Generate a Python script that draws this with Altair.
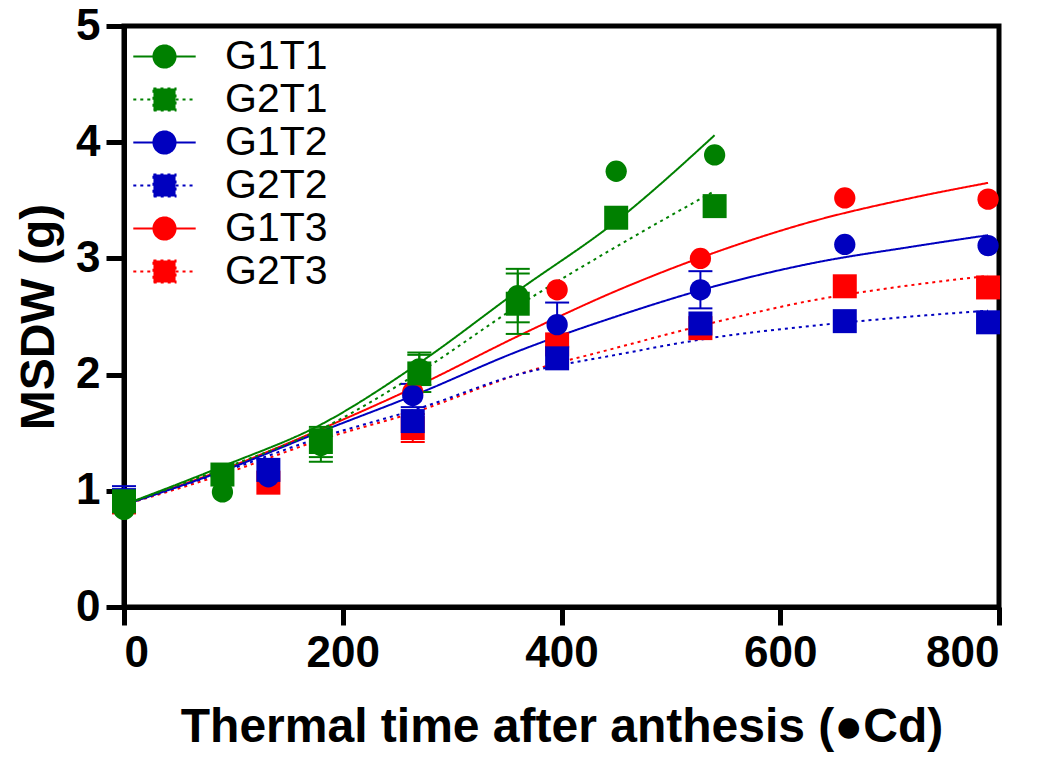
import altair as alt
import pandas as pd

# ---------------- data ----------------
series = ["G1T1", "G2T1", "G1T2", "G2T2", "G1T3", "G2T3"]
colors = ["#008000", "#008000", "#0000BF", "#0000BF", "#FF0000", "#FF0000"]
shapes = ["circle", "square", "circle", "square", "circle", "square"]
draw_order = ["G1T3", "G2T3", "G1T2", "G2T2", "G1T1", "G2T1"]

x_T1 = [0, 90, 180, 270, 360, 450, 540]
x_T23 = [0, 132, 264, 396, 527, 659, 790]

y_G1T1 = [0.84, 0.99, 1.39, 2.05, 2.68, 3.75, 3.89]
y_G2T1 = [0.91, 1.14, 1.42, 2.01, 2.61, 3.35, 3.45]
y_G1T2 = [0.93, 1.12, 1.82, 2.43, 2.73, 3.12, 3.11]
y_G2T2 = [0.92, 1.18, 1.60, 2.14, 2.44, 2.46, 2.45]
y_G1T3 = [0.90, 1.12, 1.85, 2.73, 3.00, 3.52, 3.51]
y_G2T3 = [0.90, 1.07, 1.54, 2.26, 2.40, 2.76, 2.75]

e_G1T1 = [0, 0, 0.14, 0.14, 0.23, 0, 0]
e_G2T1 = [0, 0, 0.13, 0.16, 0.26, 0, 0]
e_G1T2 = [0.11, 0, 0.10, 0.19, 0.16, 0, 0]
e_G2T2 = [0, 0, 0, 0, 0, 0, 0]
e_G1T3 = [0, 0, 0, 0, 0, 0, 0]
e_G2T3 = [0, 0, 0.12, 0, 0, 0, 0]

fit_x_T1 = [0, 90, 180, 270, 360, 450, 540]
fit_x_T23 = [0, 90, 180, 270, 360, 450, 540, 630, 720, 790]
fit_G1T1 = [0.88, 1.21, 1.57, 2.10, 2.72, 3.32, 4.06]
fit_G2T1 = [0.88, 1.19, 1.53, 2.02, 2.59, 3.10, 3.58]
fit_G1T2 = [0.88, 1.17, 1.51, 1.84, 2.20, 2.50, 2.76, 2.96, 3.10, 3.20]
fit_G2T2 = [0.88, 1.16, 1.46, 1.71, 2.00, 2.17, 2.32, 2.42, 2.50, 2.55]
fit_G1T3 = [0.88, 1.18, 1.53, 1.91, 2.33, 2.72, 3.05, 3.32, 3.52, 3.65]
fit_G2T3 = [0.88, 1.14, 1.44, 1.69, 2.00, 2.23, 2.45, 2.64, 2.77, 2.85]

pts_x = {"G1T1": x_T1, "G2T1": x_T1, "G1T2": x_T23, "G2T2": x_T23, "G1T3": x_T23, "G2T3": x_T23}
pts_y = {"G1T1": y_G1T1, "G2T1": y_G2T1, "G1T2": y_G1T2, "G2T2": y_G2T2, "G1T3": y_G1T3, "G2T3": y_G2T3}
pts_e = {"G1T1": e_G1T1, "G2T1": e_G2T1, "G1T2": e_G1T2, "G2T2": e_G2T2, "G1T3": e_G1T3, "G2T3": e_G2T3}
fit_x = {"G1T1": fit_x_T1, "G2T1": fit_x_T1, "G1T2": fit_x_T23, "G2T2": fit_x_T23, "G1T3": fit_x_T23, "G2T3": fit_x_T23}
fit_y = {"G1T1": fit_G1T1, "G2T1": fit_G2T1, "G1T2": fit_G1T2, "G2T2": fit_G2T2, "G1T3": fit_G1T3, "G2T3": fit_G2T3}

shape_of = dict(zip(series, shapes))
rows, erows, frows = [], [], []
for s in draw_order:
    for xv, yv, ev in zip(pts_x[s], pts_y[s], pts_e[s]):
        rows.append({"series": s, "t": xv, "y": yv, "shp": shape_of[s]})
        if ev > 0:
            erows.append({"series": s, "t": xv, "lo": yv - ev, "hi": yv + ev})
    for xv, yv in zip(fit_x[s], fit_y[s]):
        frows.append({"series": s, "t": xv, "fit": yv})
pts = pd.DataFrame(rows)
errs = pd.DataFrame(erows)
fits = pd.DataFrame(frows)

# legend symbols: line + marker
P_CIRCLE = "M-2.6,0L-0.92,0M0.92,0L2.6,0M-0.92,0A0.92,0.92,0,1,0,0.92,0A0.92,0.92,0,1,0,-0.92,0Z"
P_SQUARE = "M-2.6,0L-0.92,0M0.92,0L2.6,0M-0.92,-0.92L0.92,-0.92L0.92,0.92L-0.92,0.92Z"
legend_paths = [P_CIRCLE if s == "circle" else P_SQUARE for s in shapes]
dash_range = [[1, 0], [3, 4], [1, 0], [3, 4], [1, 0], [3, 4]]

FONT = "Liberation Sans"

color_scale = alt.Scale(domain=series, range=colors)
dash_scale = alt.Scale(domain=series, range=dash_range)
shape_scale = alt.Scale(domain=series, range=legend_paths)

legend = alt.Legend(
    title=None, orient="none", legendX=20, legendY=10, padding=0,
    symbolSize=576, symbolStrokeWidth=2, symbolOpacity=1,
    labelFont=FONT, labelFontSize=41, labelFontWeight="normal", labelColor="black",
    labelOffset=40, rowPadding=1,
)

xenc = alt.X("t:Q", scale=alt.Scale(domain=[0, 800], nice=False, zero=False),
             axis=alt.Axis(values=[0, 200, 400, 600, 800], format="d",
                           title="Thermal time after anthesis (●Cd)"))
yscale = alt.Scale(domain=[0, 5], nice=False)
yaxis = alt.Axis(values=[0, 1, 2, 3, 4, 5], format="d", title="MSDW (g)")

leg = alt.Chart(pts).mark_point(filled=True, opacity=0, strokeWidth=2).encode(
    x=xenc,
    y=alt.Y("y:Q", scale=yscale, axis=yaxis),
    color=alt.Color("series:N", scale=color_scale, legend=legend),
    stroke=alt.Stroke("series:N", scale=color_scale, legend=legend),
    shape=alt.Shape("series:N", scale=shape_scale, legend=legend),
    strokeDash=alt.StrokeDash("series:N", scale=dash_scale, legend=legend),
)

lines = alt.Chart(fits).mark_line(strokeWidth=2, interpolate="monotone").encode(
    x="t:Q",
    y="fit:Q",
    color=alt.Color("series:N", scale=color_scale),
    strokeDash=alt.StrokeDash("series:N", scale=dash_scale),
    detail="series:N",
)

stems = alt.Chart(errs).mark_rule(strokeWidth=2).encode(
    x="t:Q", y="lo:Q", y2="hi:Q",
    color=alt.Color("series:N", scale=color_scale),
)
cap_lo = alt.Chart(errs).mark_tick(orient="horizontal", size=24, thickness=2, opacity=1).encode(
    x="t:Q", y="lo:Q", color=alt.Color("series:N", scale=color_scale))
cap_hi = alt.Chart(errs).mark_tick(orient="horizontal", size=24, thickness=2, opacity=1).encode(
    x="t:Q", y="hi:Q", color=alt.Color("series:N", scale=color_scale))

points = alt.Chart(pts).mark_point(filled=True, opacity=1).encode(
    x="t:Q", y="y:Q",
    color=alt.Color("series:N", scale=color_scale),
    shape=alt.Shape("shp:N", scale=None),
    size=alt.condition("datum.shp == 'circle'", alt.value(452), alt.value(576)),
)

chart = alt.layer(leg, lines, stems, cap_lo, cap_hi, points).properties(
    width=875, height=581,
    autosize=alt.AutoSizeParams(type="none"),
    padding={"left": 116, "top": 18, "right": 20, "bottom": 150},
).configure_view(
    stroke="black", strokeWidth=5
).configure_axis(
    grid=False, domainColor="black", domainWidth=5, tickColor="black", tickWidth=5, tickSize=18,
    labelFont=FONT, labelFontSize=44, labelFontWeight="bold", labelColor="black", labelPadding=6,
    titleFont=FONT, titleFontSize=48, titleFontWeight="bold", titleColor="black",
).configure_axisY(titlePadding=12).configure_axisX(titlePadding=28)

chart.save("out.html", embed_options={"renderer": "svg", "actions": False})
